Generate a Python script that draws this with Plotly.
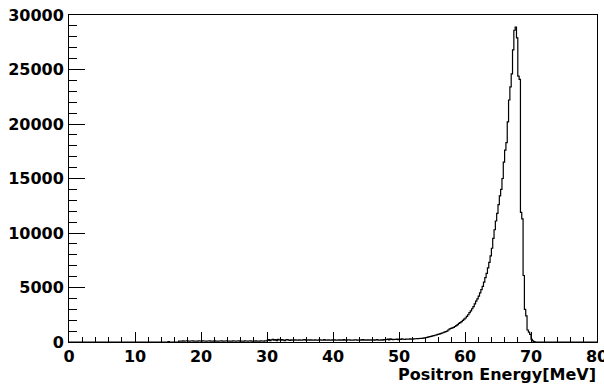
import numpy as np
import plotly.graph_objects as go

# Histogram definition (Positron energy, 0.2 MeV bins); bins outside listed range are empty
x_min, x_max = 0.0, 80.0
bin_width = 0.2
first_bin_lo = 15.0

# counts per bin
tail_a = [40, 0, 0, 0, 0, 0, 0, 0]  # 15.0 - 16.6
tail_b = [80, 90, 70, 100, 80, 90, 110, 80, 70, 90,
          100, 80, 90, 70, 80, 100, 90, 80, 110, 90,
          80, 70, 90, 100, 80, 90, 80, 100, 70, 90,
          80, 90, 100, 80, 70, 90, 110, 80, 90, 80,
          70, 100, 90, 80, 90, 100, 80, 90, 70, 80,
          100, 90, 80, 90, 110, 80, 90, 70, 100, 80,
          90, 80, 100, 90, 80, 110, 90]  # 16.6 - 30.0
tail_c = [150, 220, 130, 200, 250, 170, 210, 120, 240, 190,
          160, 220, 180, 130, 200, 230, 170, 150, 190, 180]  # 30.0 - 34.0
tail_d = [170, 190, 180, 160, 200, 180, 170, 190, 210, 180,
          160, 190, 180, 200, 170, 180, 190, 160, 180, 200,
          190, 170, 180, 210, 180, 160, 190, 180, 170, 200,
          180, 190, 160, 180, 200, 170, 190, 180, 210, 170,
          180, 190, 200, 170, 180, 160, 190, 200, 180, 170,
          190, 180, 210, 170, 190, 180, 200, 160, 190, 180,
          200, 170, 190, 210, 180]  # 34.0 - 47.0
tail_e = [180, 200, 170, 210, 190, 230, 260, 200, 280, 240,
          210, 250, 230, 270, 220, 260, 240, 280, 250, 230,
          260, 270, 250, 280, 260]  # 47.0 - 52.0
peak = [270, 280, 300, 310, 300, 320, 330, 340, 350, 380,
        400, 430, 470, 490, 520, 560, 590, 620, 660, 700,
        730, 770, 810, 850, 900, 945, 1000, 1100, 1200, 1250,
        1300, 1350, 1420, 1500, 1600, 1700, 1780, 1870, 1980, 2100,
        2200, 2350, 2500, 2700, 2850, 3050, 3250, 3500, 3750, 3950,
        4200, 4500, 4800, 5100, 5500, 5900, 6300, 6800, 7300, 7900,
        8600, 9500, 10300, 11100, 11800, 12600, 13400, 14000, 15000, 16500,
        17600, 18300, 20200, 22200, 23400, 24600, 26800, 28600, 28900, 27900,
        24400, 24100, 11900, 11300, 6100, 3000, 2400, 1100, 900, 700,
        250, 100, 30]  # 52.0 - 70.6

x_tick_vals = [0, 10, 20, 30, 40, 50, 60, 70, 80]
y_tick_vals = [0, 5000, 10000, 15000, 20000, 25000, 30000]
x_title = "Positron Energy[MeV]"

counts = tail_a + tail_b + tail_c + tail_d + tail_e + peak
edges = first_bin_lo + bin_width * np.arange(len(counts) + 1)

xs = [x_min] + list(edges[:-1]) + [edges[-1], x_max]
ys = [0] + counts + [0, 0]

fig = go.Figure(go.Scatter(x=xs, y=ys, mode="lines",
                           line=dict(color="black", width=1.2, shape="hv"),
                           hoverinfo="skip"))

axis_font = dict(family="DejaVu Sans", size=16, color="black", weight="bold")

fig.update_layout(
    width=604, height=385,
    margin=dict(l=69, r=7, t=15, b=43, autoexpand=False),
    paper_bgcolor="white", plot_bgcolor="white",
    showlegend=False,
    font=axis_font,
)
fig.update_xaxes(range=[x_min, x_max], tickvals=x_tick_vals, automargin=False,
                 ticks="inside", ticklen=10, tickwidth=1, tickcolor="black",
                 showline=True, linecolor="black", linewidth=1, mirror=True,
                 showgrid=False, zeroline=False, tickfont=axis_font,
                 ticklabelstandoff=0, ticklabeloverflow="allow",
                 minor=dict(dtick=2, tick0=0, ticks="inside", ticklen=5,
                            tickcolor="black", tickwidth=1, showgrid=False))
fig.update_yaxes(range=[0, 30000], tickvals=y_tick_vals, tickformat="d",
                 automargin=False,
                 ticks="inside", ticklen=16, tickwidth=1, tickcolor="black",
                 showline=True, linecolor="black", linewidth=1, mirror=True,
                 showgrid=False, zeroline=False, tickfont=axis_font,
                 ticklabelstandoff=1, ticklabeloverflow="allow",
                 minor=dict(dtick=1000, tick0=0, ticks="inside", ticklen=8,
                            tickcolor="black", tickwidth=1, showgrid=False))

fig.add_annotation(text=x_title, xref="paper", yref="paper", x=1.0, y=-0.100,
                   xanchor="right", yanchor="middle", showarrow=False,
                   borderpad=0, font=axis_font)

fig.write_html("out.html")
